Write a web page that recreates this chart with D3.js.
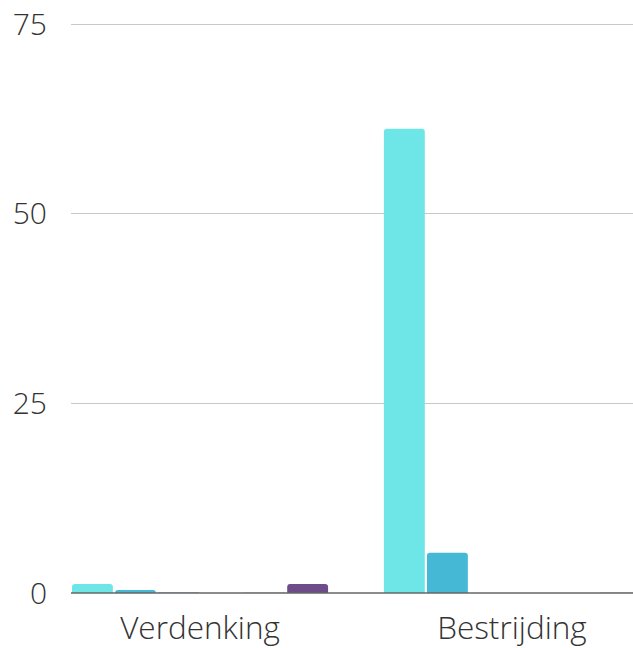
<!DOCTYPE html>
<html><head><meta charset="utf-8">
<script src="https://cdn.jsdelivr.net/npm/d3@7"></script>
<style>
html,body{margin:0;padding:0;background:#fff;overflow:hidden;}
text{font-family:"Open Sans",sans-serif;font-weight:300;fill:#333;}
</style></head>
<body>
<svg id="chart" width="633" height="648"></svg>
<script>
const categories = ["Verdenking", "Bestrijding"];
const seriesNames = ["s1", "s2", "s3", "s4", "s5", "s6"];
const seriesColors = ["#6ee6e8", "#45b8d6", "#4f86c6", "#5a6fb8", "#8e6fae", "#6d4c89"];
const values = [
  [1.2, 0.4, 0.05, 0, 0.03, 1.2],
  [61.2, 5.3, 0, 0, 0, 0.03]
];
const yTicks = [0, 25, 50, 75];

const svg = d3.select("#chart");
const x0 = d3.scaleBand().domain(categories).range([72, 640]).paddingInner(0.179).paddingOuter(0);
const x1 = d3.scaleBand().domain(seriesNames).range([0, x0.bandwidth()]).paddingInner(0.05);
const y = d3.scaleLinear().domain([0, 75]).range([593, 24]);

// gridlines
svg.append("g").selectAll("line").data(yTicks.filter(d => d > 0)).join("line")
  .attr("x1", 71).attr("x2", 633)
  .attr("y1", d => y(d)).attr("y2", d => y(d))
  .attr("stroke", "#c8c8c8").attr("stroke-width", 1).attr("shape-rendering", "crispEdges");

// y labels
svg.append("g").selectAll("text").data(yTicks).join("text")
  .attr("x", 47).attr("y", d => y(d)).attr("dy", "0.36em")
  .attr("text-anchor", "end").attr("font-size", 30)
  .text(d => d);

function topRounded(x, yTop, w, h, r) {
  r = Math.min(r, h, w / 2);
  const yb = yTop + h;
  return `M${x},${yb}V${yTop + r}Q${x},${yTop} ${x + r},${yTop}H${x + w - r}Q${x + w},${yTop} ${x + w},${yTop + r}V${yb}Z`;
}

const groups = svg.append("g").selectAll("g").data(categories).join("g")
  .attr("transform", d => `translate(${x0(d)},0)`);
groups.selectAll("path").data((d, i) => values[i].map((v, j) => ({ v, s: seriesNames[j], c: seriesColors[j] })))
  .join("path")
  .attr("d", d => {
    const h = y(0) - y(d.v);
    if (h <= 0) return "";
    return topRounded(x1(d.s), y(d.v), x1.bandwidth(), h, 3);
  })
  .attr("fill", d => d.c);

// baseline
svg.append("line").attr("x1", 71).attr("x2", 633).attr("y1", y(0)).attr("y2", y(0))
  .attr("stroke", "#666").attr("stroke-width", 1.5);

// x labels
svg.append("g").selectAll("text").data(categories).join("text")
  .attr("x", d => x0(d) + x0.bandwidth() / 2).attr("y", 639)
  .attr("text-anchor", "middle").attr("font-size", 31.5)
  .text(d => d);
</script>
</body></html>
